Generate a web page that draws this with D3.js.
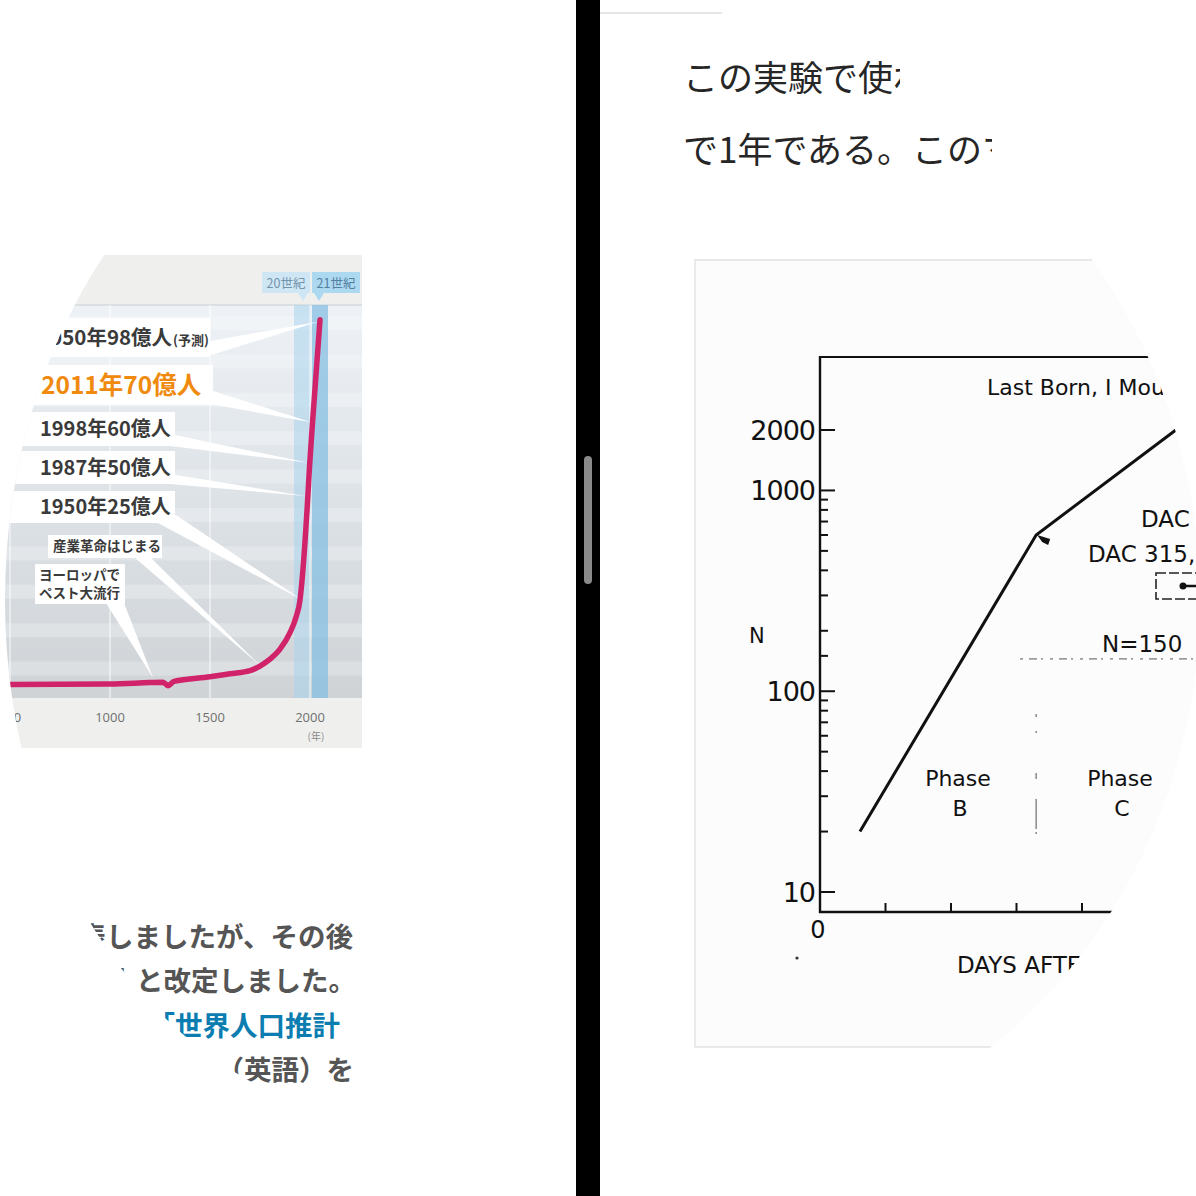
<!DOCTYPE html>
<html><head><meta charset="utf-8">
<script src="https://cdn.jsdelivr.net/npm/d3@7"></script>
<style>html,body{margin:0;padding:0;background:#fff;overflow:hidden}</style>
</head><body>
<script>
// ---------- Left chart: world population (billions) ----------
const popYears  = [0, 500, 1000, 1200, 1265, 1290, 1320, 1500, 1600, 1700, 1750, 1800, 1850, 1900, 1930, 1950, 1960, 1987, 1998, 2011, 2050];
const popValues = [0.30, 0.30, 0.31, 0.35, 0.36, 0.27, 0.38, 0.50, 0.58, 0.66, 0.78, 0.96, 1.22, 1.65, 2.05, 2.5, 3.0, 5.0, 6.0, 7.0, 9.8];
const yearTicks = [500, 1000, 1500, 2000];
const centuryLabels = ["20世紀", "21世紀"];
const centuryStart = [1900, 2000];
const centuryEnd   = [2000, 2100];
const noteLines = [["2050年98億人"], ["2011年70億人"], ["1998年60億人"], ["1987年50億人"], ["1950年25億人"], ["産業革命はじまる"], ["ヨーロッパで", "ペスト大流行"]];
const noteYear  = [2050, 2011, 1998, 1987, 1950, 1750, 1230];
const notePop   = [9.8, 7.0, 6.0, 5.0, 2.5, 0.85, 0.42];

// ---------- Right chart: mouse colony size (log N) ----------
const dayValues = [61, 330, 560];
const mouseN    = [20, 600, 2200];
const nMajorTicks = [10, 100, 1000, 2000];
const nMinorTicks = [20, 30, 40, 50, 60, 70, 80, 90, 150, 200, 300, 400, 500, 600, 700, 800, 900];
const dayTicks  = [100, 200, 300, 400];
const phaseBoundaryDay = 330;
const refLineN = 150;

// ---------- Page texts ----------
const topLines = ["この実験で使われた", "で1年である。このマ"];
const topClip = [900, 992];
const bottomLines = ["と発表しましたが、その後", "億人と改定しました。", "国連の「世界人口推計", "（英語）を"];

const W = 1196, H = 1196;
const svg = d3.select("body").append("svg").attr("width", W).attr("height", H)
  .style("display", "block");
const defs = svg.append("defs");
svg.append("rect").attr("width", W).attr("height", H).attr("fill", "#fff");

defs.append("clipPath").attr("id", "clipL").append("ellipse")
  .attr("cx", 400).attr("cy", 600).attr("rx", 395).attr("ry", 520);
defs.append("clipPath").attr("id", "clipR").append("ellipse")
  .attr("cx", 680).attr("cy", 600).attr("rx", 520).attr("ry", 558);
topLines.forEach((t, i) => {
  defs.append("clipPath").attr("id", "clipTop" + i).append("rect")
    .attr("x", 600).attr("y", 40 + i * 72).attr("width", topClip[i] - 600).attr("height", 72);
});

const grad = defs.append("linearGradient").attr("id", "plotGrad")
  .attr("x1", 0).attr("y1", 0).attr("x2", 0).attr("y2", 1);
grad.append("stop").attr("offset", "0%").attr("stop-color", "#eef2f6");
grad.append("stop").attr("offset", "50%").attr("stop-color", "#dde2e7");
grad.append("stop").attr("offset", "100%").attr("stop-color", "#cfd3d6");

// ================= LEFT =================
const L = svg.append("g").attr("clip-path", "url(#clipL)");
const xL = d3.scaleLinear().domain([1000, 2000]).range([110, 310]);
const yL = d3.scaleLinear().domain([0, 10]).range([696, 312]);
const plotTop = 305, plotBot = 698, chartLeft = -20, chartRight = 362;

L.append("rect").attr("x", chartLeft).attr("y", 255).attr("width", chartRight - chartLeft).attr("height", plotTop - 255).attr("fill", "#efefee");
L.append("rect").attr("x", chartLeft).attr("y", plotBot).attr("width", chartRight - chartLeft).attr("height", 748 - plotBot).attr("fill", "#efefee");
L.append("rect").attr("x", chartLeft).attr("y", plotTop).attr("width", chartRight - chartLeft).attr("height", plotBot - plotTop).attr("fill", "url(#plotGrad)");
const streaks = d3.range(0, 10);
L.selectAll("rect.streak").data(streaks).join("rect").attr("class", "streak")
  .attr("x", chartLeft).attr("width", chartRight - chartLeft)
  .attr("y", d => yL(d + 1) + 4).attr("height", 14)
  .attr("fill", "#ffffff").attr("opacity", 0.25);
L.append("line").attr("x1", chartLeft).attr("x2", chartRight).attr("y1", plotTop).attr("y2", plotTop)
  .attr("stroke", "#d6dadd").attr("stroke-width", 1.5);

const bandColors = ["#a9d3ec", "#86bfe2"];
L.selectAll("rect.cent").data(centuryLabels).join("rect").attr("class", "cent")
  .attr("x", (d, i) => xL(centuryStart[i]) + (i === 0 ? 4 : 2))
  .attr("width", (d, i) => xL(centuryEnd[i]) - xL(centuryStart[i]) - (i === 0 ? 3 : 4))
  .attr("y", plotTop).attr("height", plotBot - plotTop)
  .attr("fill", (d, i) => bandColors[i]).attr("opacity", (d, i) => i === 0 ? 0.55 : 0.75);

L.selectAll("line.vg").data(yearTicks).join("line").attr("class", "vg")
  .attr("x1", d => xL(d)).attr("x2", d => xL(d)).attr("y1", plotTop).attr("y2", plotBot)
  .attr("stroke", "#ffffff").attr("stroke-width", 1).attr("opacity", 0.9);

const hdr = L.selectAll("g.hdr").data(centuryLabels).join("g").attr("class", "hdr");
hdr.append("rect")
  .attr("x", (d, i) => i === 0 ? 262 : 312).attr("y", 272).attr("width", 48).attr("height", 21)
  .attr("fill", (d, i) => i === 0 ? "#cfe7f5" : "#acd8f0");
hdr.append("path")
  .attr("d", (d, i) => {
    const cx = (xL(centuryStart[i]) + xL(centuryEnd[i])) / 2 + (i === 0 ? 3 : -1);
    return `M${cx - 5},293 L${cx + 5},293 L${cx},301 Z`;
  })
  .attr("fill", (d, i) => i === 0 ? "#cfe7f5" : "#acd8f0");
hdr.append("text")
  .attr("x", (d, i) => (i === 0 ? 262 : 312) + 24).attr("y", 287.5)
  .attr("text-anchor", "middle").attr("font-family", "'Noto Sans CJK JP'")
  .attr("font-size", 12.5).attr("fill", (d, i) => i === 0 ? "#7394ab" : "#52809f")
  .text(d => d);

L.selectAll("text.xt").data(yearTicks).join("text").attr("class", "xt")
  .attr("x", d => xL(d)).attr("y", 722).attr("text-anchor", "middle")
  .attr("font-family", "'Open Sans', 'Noto Sans'").attr("font-size", 13).attr("fill", "#6f6f6f")
  .text(d => d);
L.append("text").attr("x", xL(2000) + 6).attr("y", 740).attr("text-anchor", "middle")
  .attr("font-family", "'Noto Sans CJK JP'").attr("font-size", 10).attr("fill", "#8a8a8a").text("(年)");

const boxes = [
  {x: -20, y: 318, w: 230, h: 39, tx: 38, size: 20.5, base: [[205, 342], [205, 357]], color: "#3a3a3a"},
  {x: -20, y: 365, w: 233, h: 40, tx: 41, size: 24.5, base: [[210, 390], [210, 404]], color: "#f08a0e"},
  {x: -20, y: 412, w: 195, h: 34, tx: 40, size: 20, base: [[170, 434], [170, 446]], color: "#3a3a3a"},
  {x: -20, y: 451, w: 195, h: 33, tx: 40, size: 20, base: [[170, 474], [170, 484]], color: "#3a3a3a"},
  {x: -20, y: 491, w: 195, h: 32, tx: 40, size: 20, base: [[158, 523], [176, 515]], color: "#3a3a3a"},
  {x: 48, y: 535, w: 114, h: 23, tx: 53, size: 13.5, base: [[134, 557], [150, 557]], color: "#3a3a3a"},
  {x: 35, y: 564, w: 90, h: 40, tx: 39, size: 13.5, base: [[106, 603], [124, 603]], color: "#3a3a3a"}
];
const tipShift = [[-2, 2], [-1, -5], [-2, -3], [-2, -8], [2, 0], [0, 2], [-3, -2]];
L.selectAll("path.wedge").data(boxes).join("path").attr("class", "wedge")
  .attr("d", (b, i) => {
    const tx = xL(noteYear[i]) + tipShift[i][0], ty = yL(notePop[i]) + tipShift[i][1];
    return `M${b.base[0][0]},${b.base[0][1]} L${tx},${ty} L${b.base[1][0]},${b.base[1][1]} Z`;
  })
  .attr("fill", "#ffffff");

const popData = popYears.map((y, i) => [y, popValues[i]]);
L.append("path").datum(popData)
  .attr("d", d3.line().x(d => xL(d[0])).y(d => yL(d[1])).curve(d3.curveMonotoneX))
  .attr("fill", "none").attr("stroke", "#d1236a").attr("stroke-width", 5.5)
  .attr("stroke-linejoin", "round").attr("stroke-linecap", "round");

const nb = L.selectAll("g.note").data(boxes).join("g").attr("class", "note");
nb.append("rect").attr("x", b => b.x).attr("y", b => b.y).attr("width", b => b.w).attr("height", b => b.h)
  .attr("fill", "#ffffff");
nb.each(function (b, i) {
  const g = d3.select(this);
  const lines = noteLines[i];
  const lh = b.size + 5;
  const firstBase = b.y + b.h / 2 + b.size * 0.36 - (lines.length - 1) * lh / 2;
  lines.forEach((t, k) => {
    const txt = g.append("text").attr("x", b.tx).attr("y", firstBase + k * lh)
      .attr("font-family", "'Noto Sans CJK JP'").attr("font-weight", 700)
      .attr("font-size", b.size).attr("fill", b.color).text(t);
    if (i === 0) txt.append("tspan").attr("font-size", 13).attr("dx", 1).text("(予測)");
  });
});

const bottomEnd = [353, 356, 340, 354];
L.selectAll("text.para").data(bottomLines).join("text").attr("class", "para")
  .attr("x", (d, i) => bottomEnd[i]).attr("y", (d, i) => 947 + i * 44.3)
  .attr("text-anchor", "end").attr("font-family", "'Noto Sans CJK JP'").attr("font-weight", 700)
  .attr("font-size", 27.5).attr("fill", (d, i) => i === 2 ? "#0b7db0" : "#555555")
  .text(d => d);

// ================= RIGHT =================
svg.selectAll("text.top").data(topLines).join("text").attr("class", "top")
  .attr("clip-path", (d, i) => `url(#clipTop${i})`)
  .attr("x", 683).attr("y", (d, i) => 91 + i * 72)
  .attr("font-family", "'Noto Sans CJK JP'").attr("font-size", 35).attr("fill", "#262626")
  .text(d => d);

const R = svg.append("g").attr("clip-path", "url(#clipR)");
R.append("rect").attr("x", 695).attr("y", 260).attr("width", 620).attr("height", 787)
  .attr("fill", "#fcfcfc").attr("stroke", "#e9e9e9").attr("stroke-width", 2);

const xR = d3.scaleLinear().domain([0, 400]).range([820, 1082]);
const yR = d3.scaleLog().domain([10, 2000]).range([892, 430]);
const axisY = 912, axisX = 820;
const rFont = "'DejaVu Sans', sans-serif";

R.append("line").attr("x1", axisX - 1).attr("x2", 1300).attr("y1", 357).attr("y2", 357)
  .attr("stroke", "#111").attr("stroke-width", 2.2);
R.append("line").attr("x1", axisX).attr("x2", axisX).attr("y1", 356).attr("y2", axisY + 1)
  .attr("stroke", "#111").attr("stroke-width", 2.4);
R.append("line").attr("x1", axisX - 1).attr("x2", 1300).attr("y1", axisY).attr("y2", axisY)
  .attr("stroke", "#111").attr("stroke-width", 2.4);

R.selectAll("line.ymaj").data(nMajorTicks).join("line").attr("class", "ymaj")
  .attr("x1", axisX).attr("x2", axisX + 15).attr("y1", d => yR(d)).attr("y2", d => yR(d))
  .attr("stroke", "#111").attr("stroke-width", 2);
R.selectAll("line.ymin").data(nMinorTicks).join("line").attr("class", "ymin")
  .attr("x1", axisX).attr("x2", axisX + 8).attr("y1", d => yR(d)).attr("y2", d => yR(d))
  .attr("stroke", "#111").attr("stroke-width", 2);
R.selectAll("text.ylab").data(nMajorTicks).join("text").attr("class", "ylab")
  .attr("x", axisX - 5).attr("y", d => yR(d) + 10).attr("text-anchor", "end")
  .attr("font-family", rFont).attr("font-size", 27).attr("letter-spacing", -1).attr("fill", "#111")
  .text(d => d);

R.selectAll("line.xt").data(dayTicks).join("line").attr("class", "xt")
  .attr("x1", d => xR(d)).attr("x2", d => xR(d)).attr("y1", axisY).attr("y2", axisY - 9)
  .attr("stroke", "#111").attr("stroke-width", 2);
R.append("text").attr("x", xR(0) - 2).attr("y", 938).attr("text-anchor", "middle")
  .attr("font-family", rFont).attr("font-size", 24).attr("fill", "#111").text("0");
R.append("text").attr("x", 957).attr("y", 973)
  .attr("font-family", rFont).attr("font-size", 23).attr("fill", "#111").text("DAYS AFTER");
R.append("circle").attr("cx", 797).attr("cy", 958).attr("r", 1.6).attr("fill", "#333");
R.append("text").attr("x", 749).attr("y", 643)
  .attr("font-family", rFont).attr("font-size", 21).attr("fill", "#111").text("N");

R.append("line").attr("x1", xR(phaseBoundaryDay)).attr("x2", xR(phaseBoundaryDay))
  .attr("y1", 714).attr("y2", 834).attr("stroke", "#777").attr("stroke-width", 1.3)
  .attr("stroke-dasharray", "3,14,2,40,6,20,30");

R.append("line").attr("x1", 1020).attr("x2", 1300).attr("y1", yR(refLineN) + 3).attr("y2", yR(refLineN) + 3)
  .attr("stroke", "#777").attr("stroke-width", 1.4).attr("stroke-dasharray", "3,6,8,4,2,7");

const mouseData = dayValues.map((d, i) => [d, mouseN[i]]);
R.append("path").datum(mouseData)
  .attr("d", d3.line().x(d => xR(d[0])).y(d => yR(d[1])))
  .attr("fill", "none").attr("stroke", "#111").attr("stroke-width", 3);
const kx = xR(dayValues[1]), ky = yR(mouseN[1]);
R.append("path").attr("d", `M${kx + 1},${ky} L${kx + 14},${ky + 4} L${kx + 12},${ky + 10} L${kx + 6},${ky + 7} Z`).attr("fill", "#111");

const rText = (x, y, t, size, anchor) => R.append("text").attr("x", x).attr("y", y)
  .attr("text-anchor", anchor || "start").attr("font-family", rFont).attr("font-size", size)
  .attr("fill", "#111").text(t);
rText(987, 395, "Last Born, I Mouse", 22);
rText(1141, 527, "DAC", 23);
rText(1088, 562, "DAC 315,", 23);
rText(1102, 652, "N=150", 23);
rText(958, 786, "Phase", 22, "middle");
rText(960, 816, "B", 22, "middle");
rText(1120, 786, "Phase", 22, "middle");
rText(1122, 816, "C", 22, "middle");
R.append("rect").attr("x", 1156).attr("y", 573).attr("width", 60).attr("height", 26)
  .attr("fill", "none").attr("stroke", "#222").attr("stroke-width", 1.6).attr("stroke-dasharray", "10,3");
R.append("circle").attr("cx", 1183).attr("cy", 586).attr("r", 3.5).attr("fill", "#111");
R.append("line").attr("x1", 1183).attr("x2", 1200).attr("y1", 586).attr("y2", 586).attr("stroke", "#111").attr("stroke-width", 2.5);

svg.append("line").attr("x1", 600).attr("x2", 722).attr("y1", 13).attr("y2", 13)
  .attr("stroke", "#e6e6e6").attr("stroke-width", 2);

svg.append("rect").attr("x", 576).attr("y", 0).attr("width", 24).attr("height", H).attr("fill", "#000");
svg.append("rect").attr("x", 584).attr("y", 456).attr("width", 8).attr("height", 128).attr("rx", 4)
  .attr("fill", "#8a8a8a");
</script>
</body></html>
